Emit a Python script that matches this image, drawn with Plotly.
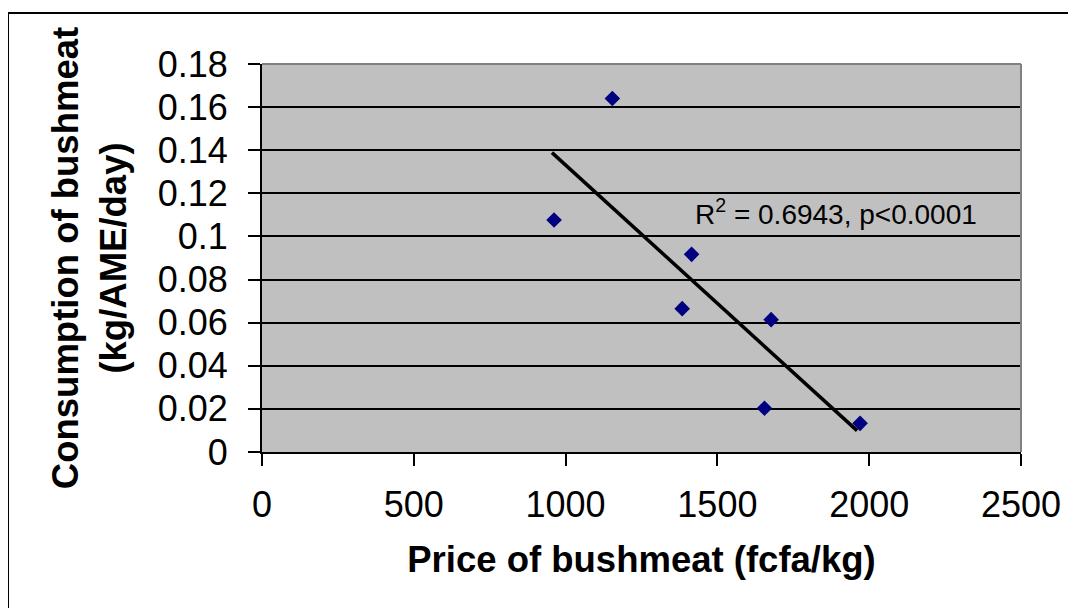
import plotly.graph_objects as go

# Data
price = [962, 1154, 1384, 1415, 1655, 1677, 1970]
consumption = [0.1076, 0.164, 0.0665, 0.0917, 0.0203, 0.0614, 0.0133]
trend_x = [955, 1960]
trend_y = [0.1389, 0.0099]
x_ticks = [0, 500, 1000, 1500, 2000, 2500]
y_ticks = [0, 0.02, 0.04, 0.06, 0.08, 0.1, 0.12, 0.14, 0.16, 0.18]
y_tick_labels = ["0", "0.02", "0.04", "0.06", "0.08", "0.1", "0.12", "0.14", "0.16", "0.18"]

FONT = "Arial, Liberation Sans, sans-serif"

fig = go.Figure()
fig.add_trace(go.Scatter(
    x=price, y=consumption, mode="markers",
    marker=dict(symbol="diamond", size=12, color="#000080"),
    showlegend=False, cliponaxis=False,
))
fig.add_trace(go.Scatter(
    x=trend_x, y=trend_y, mode="lines",
    line=dict(color="black", width=3.5),
    showlegend=False,
))

fig.add_annotation(
    x=1418, y=0.1115, xref="x", yref="y",
    text="R<sup>2</sup> = 0.6943, p&lt;0.0001",
    showarrow=False, xanchor="left", yanchor="middle",
    font=dict(family=FONT, size=28, color="black"),
)

# page has an 8px body margin; figure placed at (8, 8)
OFF = 8
L, R, T, B = 262 - OFF, 55, 64 - OFF, 156
W, H = 1076 - OFF, 608 - OFF
pw, ph = W - L - R, H - T - B

def px_x(p):
    return (p - OFF - L) / pw

def px_y(p):
    return (H - B - (p - OFF)) / ph

shapes = [
    dict(type="line", xref="paper", yref="paper", x0=0, x1=1, y0=1, y1=1,
         line=dict(color="#808080", width=2), layer="above"),
    dict(type="line", xref="paper", yref="paper", x0=1, x1=1, y0=0, y1=1,
         line=dict(color="#808080", width=2), layer="above"),
    dict(type="line", xref="paper", yref="paper", x0=px_x(8), x1=px_x(8),
         y0=px_y(13), y1=px_y(620), line=dict(color="black", width=2)),
    dict(type="line", xref="paper", yref="paper", x0=px_x(8), x1=px_x(1090),
         y0=px_y(13), y1=px_y(13), line=dict(color="black", width=2)),
]

fig.update_layout(
    width=W, height=H,
    margin=dict(l=L, r=R, t=T, b=B, pad=0),
    paper_bgcolor="white",
    plot_bgcolor="#C0C0C0",
    font=dict(family=FONT, color="black"),
    shapes=shapes,
    xaxis=dict(
        range=[0, 2500], tickvals=x_ticks, ticktext=[str(v) for v in x_ticks],
        showgrid=False, zeroline=False,
        showline=True, linecolor="black", linewidth=2,
        ticks="outside", ticklen=12, tickwidth=2, tickcolor="black",
        tickfont=dict(size=36, family=FONT), ticklabelstandoff=8,
        title=dict(text="<b>Price of bushmeat (fcfa/kg)</b>",
                   font=dict(size=36.5, family=FONT), standoff=22),
    ),
    yaxis=dict(
        range=[0, 0.18], tickvals=y_ticks, ticktext=y_tick_labels,
        showgrid=True, gridcolor="black", gridwidth=2, zeroline=False,
        showline=True, linecolor="black", linewidth=2,
        ticks="outside", ticklen=12, tickwidth=2, tickcolor="black",
        tickfont=dict(size=36, family=FONT), ticklabelstandoff=13,
        title=dict(text="<b>Consumption of bushmeat<br>(kg/AME/day)</b>",
                   font=dict(size=36.5, family=FONT), standoff=20),
    ),
)

fig.write_html("out.html")
